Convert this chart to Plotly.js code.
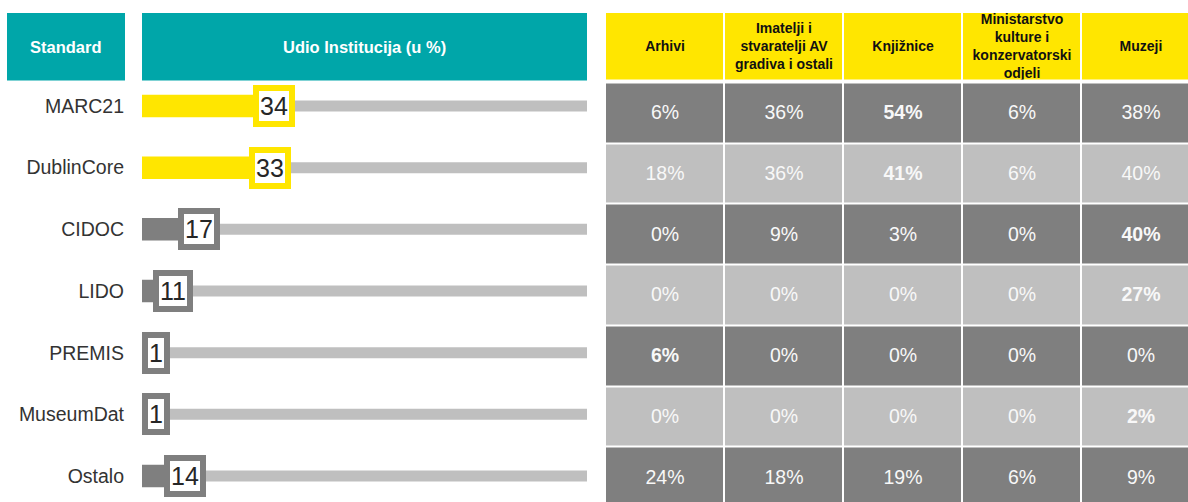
<!DOCTYPE html>
<html>
<head>
<meta charset="utf-8">
<script src="https://cdn.plot.ly/plotly-3.0.1.min.js"></script>
<style>html,body{margin:0;padding:0;background:#fff;}#chart{width:1188px;height:502px;}</style>
</head>
<body>
<div id="chart"></div>
<script>
// ---- data ----
var standards = ['MARC21', 'DublinCore', 'CIDOC', 'LIDO', 'PREMIS', 'MuseumDat', 'Ostalo'];
var shareInstitutions = [34, 33, 17, 11, 1, 1, 14];
var groups = ['Arhivi', 'Imatelji i<br>stvaratelji AV<br>gradiva i ostali', 'Knjižnice', 'Ministarstvo<br>kulture i<br>konzervatorski<br>odjeli', 'Muzeji'];
var arhivi = [6, 18, 0, 0, 6, 0, 24];
var imatelji = [36, 36, 9, 0, 0, 0, 18];
var knjiznice = [54, 41, 3, 0, 0, 0, 19];
var ministarstvo = [6, 6, 0, 0, 0, 0, 6];
var muzeji = [38, 40, 40, 27, 0, 2, 9];
var boldColumn = [2, 2, 4, 4, 0, 4, -1]; // highlighted group per standard
var headerLeft = ['Standard', 'Udio Institucija (u %)'];

// ---- styles ----
var W = 1188, H = 502;
var FONT = 'Liberation Sans, Arial, sans-serif';
var YELLOW = '#FFE600', DARK = '#7F7F7F', LIGHT = '#BFBFBF', TEAL = '#00A6A9';

var idx = standards.map(function (_, i) { return i; });
var barColors = shareInstitutions.map(function (v) { return v >= 30 ? YELLOW : DARK; });

// left bars: row centres at 106 + 61.67*i px
var rowPx = 61.67, firstPx = 106;
var yRange = [(H - firstPx) / rowPx, -firstPx / rowPx];

var track = {
  type: 'bar', orientation: 'h', x: standards.map(function () { return 100; }), y: idx,
  width: 11 / rowPx, marker: { color: LIGHT }, hoverinfo: 'skip', xaxis: 'x', yaxis: 'y'
};
var bars = {
  type: 'bar', orientation: 'h', x: shareInstitutions, y: idx,
  width: 22.5 / rowPx, marker: { color: barColors }, hoverinfo: 'skip', xaxis: 'x', yaxis: 'y'
};

// table
var cols = [arhivi, imatelji, knjiznice, ministarstvo, muzeji];
var zData = [], tData = [];
for (var r = 0; r < standards.length; r++) {
  var zr = [], tr = [];
  for (var c = 0; c < cols.length; c++) {
    zr.push(r % 2);
    var s = cols[c][r] + '%';
    tr.push(boldColumn[r] === c ? '<b>' + s + '</b>' : s);
  }
  zData.push(zr); tData.push(tr);
}
var gx = groups.map(function (_, i) { return i; });
var tableData = {
  type: 'heatmap', z: zData, text: tData, x: gx, y: idx, texttemplate: '%{text}',
  textfont: { color: '#F8F8F8', size: 19.5, family: FONT },
  colorscale: [[0, DARK], [1, LIGHT]], zmin: 0, zmax: 1, showscale: false,
  xgap: 2, ygap: 2, hoverinfo: 'skip', xaxis: 'x2', yaxis: 'y2'
};
var tableHead = {
  type: 'heatmap', z: [groups.map(function () { return 0; })],
  text: [groups.map(function (g) { return '<b>' + g + '</b>'; })], x: gx, y: [0],
  texttemplate: '%{text}', textfont: { color: '#111111', size: 14, family: FONT },
  colorscale: [[0, YELLOW], [1, YELLOW]], zmin: 0, zmax: 1, showscale: false,
  xgap: 2, ygap: 0, hoverinfo: 'skip', xaxis: 'x2', yaxis: 'y3'
};

var pitchX = 119.1;
var tLeft = 605;
var tableRowPx = 60.7, tableTop = 82.5;

var annotations = [];
shareInstitutions.forEach(function (v, i) {
  var small = v * (587 - 142) / 100 < 30;
  annotations.push({
    x: small ? 0 : v, y: i, xref: 'x', yref: 'y', xanchor: small ? 'left' : 'right', yanchor: 'middle',
    xshift: small ? 0 : 2,
    text: String(v), showarrow: false, font: { size: 25, color: '#262626', family: FONT },
    bgcolor: '#FFFFFF', bordercolor: barColors[i], borderwidth: 6, borderpad: 1
  });
});
var hdrBoxes = [[7, 125], [142, 587]];
var shapes = hdrBoxes.map(function (b) {
  return { type: 'rect', xref: 'paper', yref: 'paper', x0: b[0] / W, x1: b[1] / W,
    y0: 1 - 80.5 / H, y1: 1 - 13 / H, fillcolor: TEAL, line: { width: 0 }, layer: 'below' };
});
headerLeft.forEach(function (t, i) {
  annotations.push({ x: (hdrBoxes[i][0] + hdrBoxes[i][1]) / 2 / W, y: 1 - 47 / H, xref: 'paper', yref: 'paper',
    xanchor: 'center', yanchor: 'middle',
    text: '<b>' + t + '</b>', showarrow: false, font: { size: 16.5, color: '#FFFFFF', family: FONT } });
});

var layout = {
  width: W, height: H, margin: { l: 0, r: 0, t: 0, b: 0 }, paper_bgcolor: '#fff', plot_bgcolor: 'rgba(0,0,0,0)',
  showlegend: false, barmode: 'overlay', shapes: shapes, annotations: annotations,
  xaxis: { domain: [142 / W, 587 / W], range: [0, 100], visible: false, fixedrange: true },
  yaxis: { domain: [0, 1], range: yRange, tickvals: idx, ticktext: standards, showgrid: false, zeroline: false,
    showline: false, ticks: '', ticklabelstandoff: 17, tickfont: { size: 19.5, color: '#333333', family: FONT }, fixedrange: true },
  xaxis2: { domain: [tLeft / W, 1], range: [-0.5, -0.5 + (W - tLeft) / pitchX], visible: false, fixedrange: true },
  yaxis2: { domain: [0, 1 - tableTop / H], range: [-0.5 + (H - tableTop) / tableRowPx, -0.5], visible: false, anchor: 'x2', fixedrange: true },
  yaxis3: { domain: [1 - 79.5 / H, 1 - 13 / H], range: [0.5, -0.5], visible: false, anchor: 'x2', fixedrange: true }
};

Plotly.newPlot('chart', [track, bars, tableHead, tableData], layout, { staticPlot: true });
</script>
</body>
</html>
